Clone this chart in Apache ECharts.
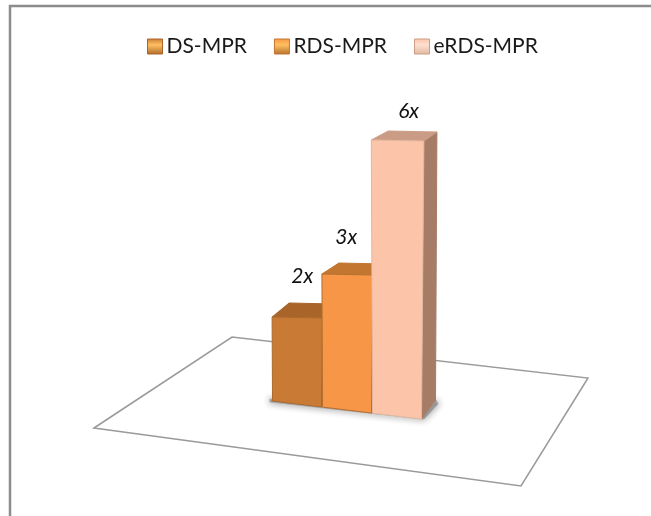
<!DOCTYPE html>
<html><head><meta charset="utf-8">
<style>html,body{margin:0;padding:0;background:#fff}#c{width:651px;height:516px}</style>
<script src="https://cdn.jsdelivr.net/npm/echarts@6/dist/echarts.min.js"></script>
</head><body><div id="c"></div>
<script>
const categories = ['DS-MPR', 'RDS-MPR', 'eRDS-MPR'];
const values = [2, 3, 6];
const valueLabels = ['2x', '3x', '6x'];
const frontColors = ['#C97B35', '#F79646', '#FCC4A9'];
const topColors = ['#A9642A', '#C2762F', '#CB9C85'];
const sideColors = ['#9C6A48', '#A9703F', '#A67C66'];
const edgeColors = ['#AD6A2C', '#B5702F', '#E3B79F'];
const depthLift = [0, 3, 7];
const depthRise = [-14, -11, -9];
const labelShiftX = [5, -1, 11];
const labelShiftY = [41, 37, 29];

const chart = echarts.init(document.getElementById('c'), null, {renderer: 'canvas'});

function renderBar(params, api) {
  const i = api.value(0), v = api.value(1);
  const band = api.size([1, 0])[0];
  const cx = api.coord([i, 0])[0];
  const xL = cx - band / 2 + 0.5, xR = cx + band / 2 - 0.5;
  const base = api.coord([i, 0])[1];
  const topY = api.coord([i, v])[1] + depthLift[i];
  const floorY = x => base - 8 + (x - 272) * 0.121;
  const spreadL = v * 0.2, spreadR = v * 0.4;
  const tl = [xL - spreadL, topY], tr = [xR + spreadR, topY + 1];
  const bl = [xL, floorY(xL)], br = [xR, floorY(xR)];
  const dx = 15, dy = depthRise[i];
  const btl = [tl[0] + dx + 2, tl[1] + dy], btr = [tr[0] + dx - 2, tr[1] + dy];
  const bbr = [br[0] + dx - 1, br[1] - 19];
  const poly = (pts, fill, stroke) => ({
    type: 'polygon', shape: {points: pts},
    style: {fill: fill, stroke: stroke || fill, lineWidth: 1}
  });
  return {
    type: 'group',
    children: [
      poly([tr, btr, bbr, br], sideColors[i]),
      poly([tl, btl, btr, tr], topColors[i]),
      poly([tl, tr, br, bl], frontColors[i], edgeColors[i]),
      {
        type: 'text', z2: 5,
        style: {
          text: valueLabels[i], x: (tl[0] + tr[0]) / 2 + labelShiftX[i], y: topY - labelShiftY[i],
          fill: '#111', font: 'italic 21px Lato', align: 'center', verticalAlign: 'middle'
        }
      }
    ]
  };
}

chart.setOption({
  animation: false,
  backgroundColor: '#fff',
  legend: {
    top: 31, left: 142, itemWidth: 15, itemHeight: 15, itemGap: 27, icon: 'rect',
    data: categories.map((name, i) => ({
      name,
      itemStyle: {color: {type: 'linear', x: 0, y: 0, x2: 0, y2: 1, colorStops: [
        {offset: 0, color: frontColors[i]}, {offset: 0.4, color: i === 2 ? '#FDE0D0' : '#FFC060'}, {offset: 1, color: edgeColors[i]}
      ]}, borderColor: topColors[i], borderWidth: 1}
    })),
    textStyle: {fontFamily: 'Lato', fontSize: 21, color: '#1a1a1a', padding: [0, 0, 0, -1]}
  },
  grid: {left: 272, width: 150, top: 133, height: 276, containLabel: false},
  xAxis: {type: 'category', data: [0, 1, 2], show: false},
  yAxis: {type: 'value', min: 0, max: 6, interval: 1, show: false},
  graphic: {elements: [
    {type: 'polyline', silent: true, z: 0, shape: {points: [[10, 516], [10, 6], [651, 6]]},
      style: {stroke: '#8c8c8c', lineWidth: 2.5, fill: null}},
    {type: 'polygon', silent: true, z: 0, shape: {points: [[94, 428], [232, 337], [588, 378], [521, 486]]},
      style: {fill: '#fff', stroke: '#9a9a9a', lineWidth: 1.5}},
    {type: 'polygon', silent: true, z: 0, shape: {points: [[270, 399], [422, 417], [436, 400], [438, 404], [424, 419], [270, 402]]},
      style: {fill: '#999', stroke: '#aaa', lineWidth: 1, shadowBlur: 7, shadowColor: '#888'}}
  ]},
  series: categories.map((name, i) => ({
    name, type: 'custom', coordinateSystem: 'cartesian2d', z: 2 + i,
    itemStyle: {color: frontColors[i]},
    encode: {x: 0, y: 1},
    data: [[i, values[i]]],
    renderItem: renderBar
  }))
});
</script></body></html>
